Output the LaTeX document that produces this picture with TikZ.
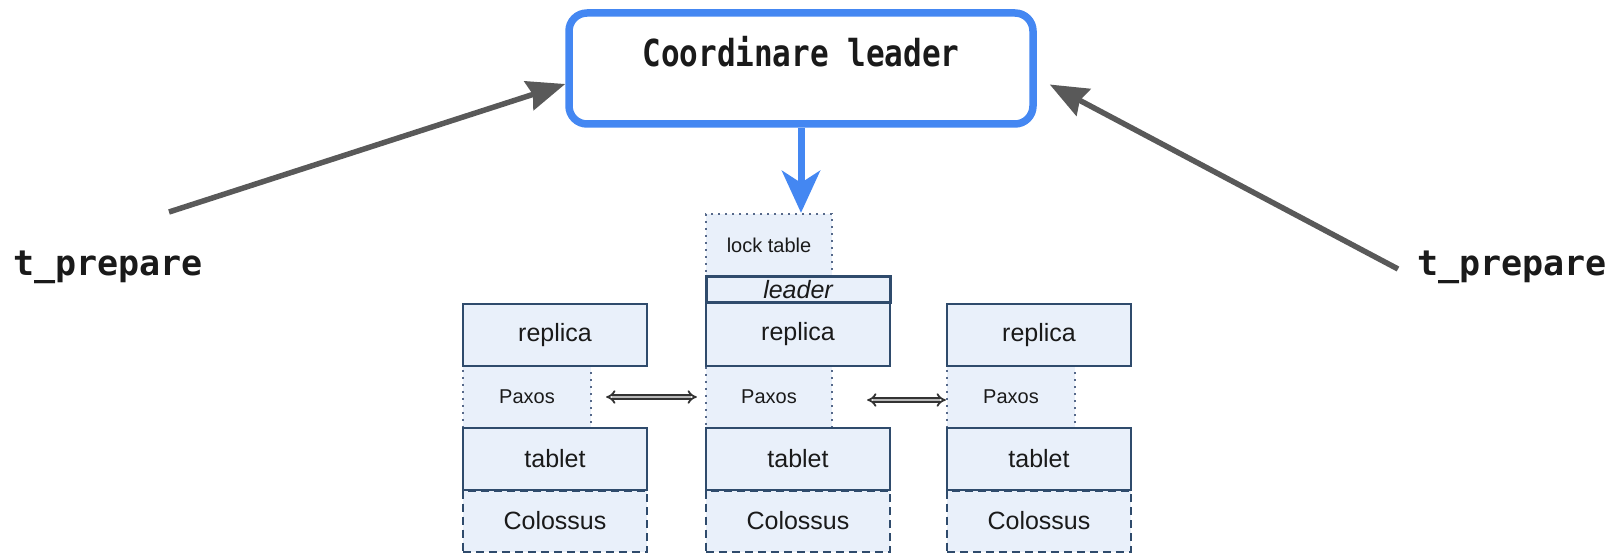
\documentclass[tikz,border=0pt]{standalone}
\usepackage{fontspec}
\setmainfont{Liberation Sans}
\newfontfamily\monofont{DejaVu Sans Mono}
\usetikzlibrary{arrows.meta}

\definecolor{coordblue}{HTML}{4487F2}
\definecolor{cellline}{HTML}{2F4B6C}
\definecolor{dotline}{HTML}{56698A}
\definecolor{cellfill}{HTML}{E9F0FA}
\definecolor{arrowgrey}{HTML}{595959}
\definecolor{inktext}{HTML}{1A1A1A}

\tikzset{
  cell/.style={draw=cellline, line width=2pt, fill=cellfill, inner sep=0pt,
    text=inktext, font=\fontsize{25}{30}\selectfont},
  dotcell/.style={draw=dotline, line width=2.3pt, dash pattern=on 2pt off 5pt,
    fill=cellfill, inner sep=0pt, text=inktext, font=\fontsize{20}{24}\selectfont},
  dashcell/.style={cell, dash pattern=on 8pt off 5pt},
  leadercell/.style={cell, line width=3pt, font=\fontsize{25}{30}\itshape},
  coordbox/.style={draw=coordblue, line width=7.5pt, fill=white, rounded corners=18pt,
    minimum width=464pt, minimum height=111pt, inner sep=0pt,
    text height=25pt, text depth=28pt, text=inktext},
  monolabel/.style={inner sep=0pt, text=inktext,
    font=\monofont\bfseries\fontsize{35}{40}\selectfont},
  greyarrow/.style={draw=arrowgrey, line width=5.5pt,
    -{Stealth[length=38pt, width=30pt, inset=4pt]}, arrowgrey},
  bluearrow/.style={draw=coordblue, line width=7pt,
    -{Stealth[length=42pt, width=38pt, inset=12pt]}, coordblue},
  paxosarrow/.style={draw=black!80, line width=1.8pt, double=gray!55,
    double distance=2.6pt, {Implies}-{Implies}},
}

\begin{document}
\begin{tikzpicture}[x=1pt, y=-1pt]
\useasboundingbox (0,0) rectangle (1610,553);

% coordinator
\node[coordbox] (coord) at (801,68.5)
  {\monofont\bfseries\fontsize{31}{36}\selectfont\scalebox{1}[1.2]{Coordinare leader}};

% left column
\node[dotcell, minimum width=128pt, minimum height=62pt] (paxL) at (527,397) {Paxos};
\node[cell, minimum width=184pt, minimum height=62pt] (repL) at (555,335) {replica};
\node[cell, minimum width=184pt, minimum height=62pt] (tabL) at (555,459) {tablet};
\node[dashcell, minimum width=184pt, minimum height=61pt] (colL) at (555,521) {Colossus};

% middle column (leader)
\node[dotcell, minimum width=126pt, minimum height=63pt] (lock) at (769,245.5) {lock table};
\node[dotcell, minimum width=126pt, minimum height=62pt] (paxM) at (769,397) {Paxos};
\node[leadercell, minimum width=184pt, minimum height=26pt] (lead) at (798,290) {leader};
\node[cell, minimum width=184pt, minimum height=63pt] (repM) at (798,334.5) {replica};
\node[cell, minimum width=184pt, minimum height=62pt] (tabM) at (798,459) {tablet};
\node[dashcell, minimum width=184pt, minimum height=61pt] (colM) at (798,521) {Colossus};

% right column
\node[dotcell, minimum width=128pt, minimum height=62pt] (paxR) at (1011,397) {Paxos};
\node[cell, minimum width=184pt, minimum height=62pt] (repR) at (1039,335) {replica};
\node[cell, minimum width=184pt, minimum height=62pt] (tabR) at (1039,459) {tablet};
\node[dashcell, minimum width=184pt, minimum height=61pt] (colR) at (1039,521) {Colossus};

% Paxos replication links
\draw[paxosarrow] ([xshift=14pt]paxL.east) -- ([xshift=-8pt]paxM.west);
\draw[paxosarrow] ([xshift=34pt,yshift=-3pt]paxM.east) -- ([yshift=-3pt]paxR.west);

% leader talks to its lock table
\draw[bluearrow] (coord.south) -- (coord.south |- lock.north);

% prepare messages
\node[monolabel, anchor=base west] (tpL) at (13,276) {t\_prepare};
\node[monolabel, anchor=base west] (tpR) at (1417,276) {t\_prepare};
\coordinate (fromL) at (169,212);
\coordinate (fromR) at (1398,269);
\draw[greyarrow] (fromL) -- ([yshift=-15.5pt]coord.west);
\draw[greyarrow] (fromR) -- ([xshift=13pt,yshift=-16pt]coord.east);
\end{tikzpicture}
\end{document}
